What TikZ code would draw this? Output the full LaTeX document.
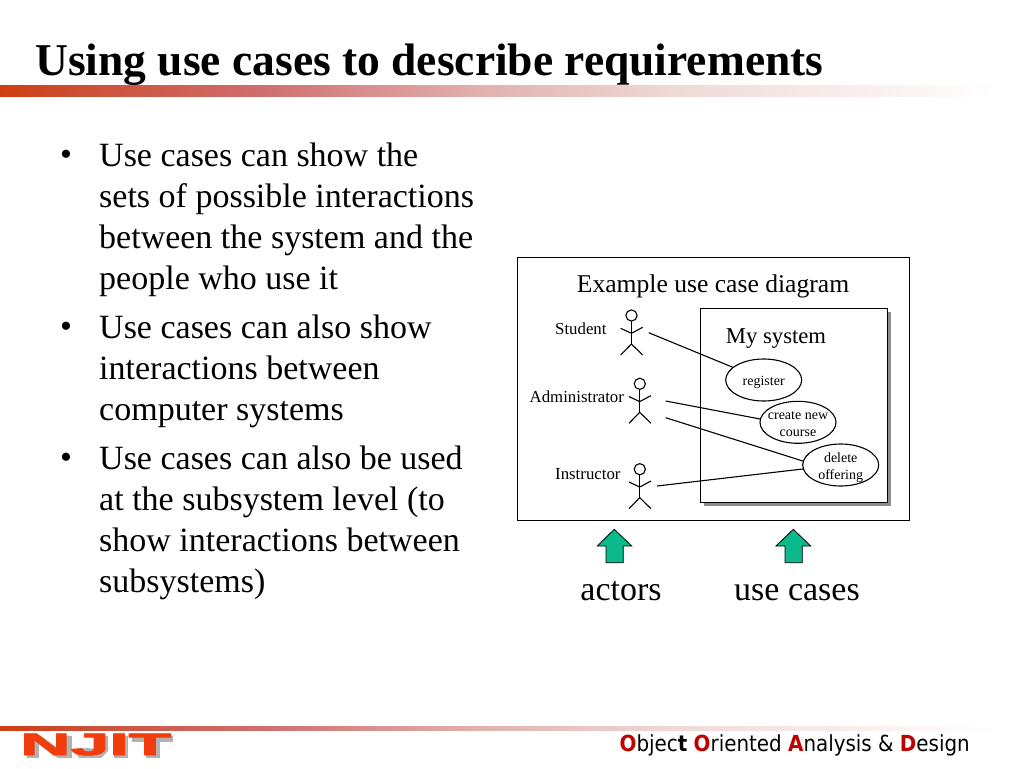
\documentclass[tikz,border=0pt]{standalone}
\usepackage{fontspec}
\setmainfont{Liberation Serif}
\newfontfamily\footfont{DejaVu Sans Condensed}
\newfontfamily\logofont[FakeBold=2.5]{Liberation Sans Bold}
\usetikzlibrary{shapes.geometric}
\definecolor{fadea}{HTML}{CF3E10}
\definecolor{fadeb}{HTML}{CC4F35}
\definecolor{fadec}{HTML}{D07070}
\definecolor{faded}{HTML}{E0AFAB}
\definecolor{fadee}{HTML}{F0DAD8}
\definecolor{arrowgreen}{HTML}{0BB98C}
\definecolor{logored}{HTML}{F23C0C}
\definecolor{footred}{HTML}{C00000}
\pgfdeclarehorizontalshading{barfade}{100bp}{color(0bp)=(fadea); color(25bp)=(fadea); color(29bp)=(fadeb); color(38.5bp)=(fadec); color(48.5bp)=(faded); color(59bp)=(fadee); color(75bp)=(white); color(100bp)=(white)}
\newcommand{\drawactor}[3]{%
  \begin{scope}[shift={(#1,#2)}]
    \draw[thinline] (631.5,315.5) circle (5.6);
    \draw[thinline] (631.4,321.1) -- (631.4,344);
    \draw[thinline] (620.7,328.3) -- (631.4,333.3) -- (642.7,327.3);
    \draw[thinline] (620.7,355) -- (631.4,344) -- (642.7,355);
    \coordinate (#3) at (631.4,333);
  \end{scope}}
\newcommand{\casetext}[1]{\raisebox{-6pt}[0pt][0pt]{\makebox[0pt]{\begin{tabular}{@{}c@{}}#1\end{tabular}}}}
\newcommand{\logotext}{\scalebox{2.25}[1]{NJIT}}
\tikzset{
  x=1pt,y=-1pt,
  thinline/.style={draw=black,line width=1.1pt},
  frameline/.style={draw=black,line width=1pt},
  usecase/.style={ellipse,draw=black,line width=1.1pt,fill=white,minimum width=76pt,minimum height=42pt,inner sep=0pt,align=center,font=\fontsize{14}{17.5}\selectfont},
  bodytext/.style={anchor=north west,inner sep=0pt,align=left,font=\fontsize{34}{41}\selectfont},
  bulletmark/.style={anchor=base west,inner sep=0pt,font=\fontsize{34}{41}\selectfont},
  actorlabel/.style={anchor=base west,inner sep=0pt,font=\fontsize{16.8}{20}\selectfont},
  upgreen/.style={draw=black,line width=.8pt,fill=arrowgreen},
  bigtext/.style={anchor=base,inner sep=0pt,font=\fontsize{34}{38}\selectfont},
  logoshade/.style={fill=black!30},
}
\begin{document}
\begin{tikzpicture}
\useasboundingbox (0,0) rectangle (1024,768);
\fill[white] (0,0) rectangle (1024,768);
% title and bars
\node[anchor=base west,inner sep=0pt,font=\fontsize{45.5}{50}\selectfont\bfseries] (title) at (35,75) {Using use cases to describe requirements};
\shade[shading=barfade] (0,85) rectangle (1000,96);
\shade[shading=barfade] (0,726) rectangle (1000,730);
% bullets
\node[bulletmark] (b1) at (60,165) {•};
\node[bodytext] (t1) at (99,143) {Use cases can show the\\sets of possible interactions\\between the system and the\\people who use it};
\node[bulletmark] (b2) at (60,337) {•};
\node[bodytext] (t2) at (99,315) {Use cases can also show\\interactions between\\computer systems};
\node[bulletmark] (b3) at (60,468) {•};
\node[bodytext] (t3) at (99,446) {Use cases can also be used\\at the subsystem level (to\\show interactions between\\subsystems)};
% diagram frame
\draw[frameline,fill=white] (517,257) rectangle (909,520);
\node[anchor=base,inner sep=0pt,font=\fontsize{25.6}{30}\selectfont] (dtitle) at (713,292) {Example use case diagram};
\fill[black!45] (703.5,311.5) rectangle (890.5,506);
\draw[frameline,fill=white] (700,308) rectangle (887,502);
\node[anchor=base,inner sep=0pt,font=\fontsize{22.7}{26}\selectfont] (sys) at (776,343) {My system};
% use cases
\node[usecase] (reg) at (763.7,380) {\casetext{register}};
\node[usecase] (create) at (798,422.3) {\casetext{create new\\course}};
\node[usecase] (del) at (840.7,465) {\casetext{delete\\offering}};
% actors
\drawactor{0}{0}{stuc}
\drawactor{8.3}{68.3}{admc}
\drawactor{8.3}{153.7}{insc}
\node[actorlabel] (lstu) at (555,334) {Student};
\node[actorlabel] (ladm) at (529.5,402) {Administrator};
\node[actorlabel] (lins) at (555,479) {Instructor};
% connectors
\coordinate (stuhand) at (648.7,332.7);
\coordinate (admhanda) at (665.7,401);
\coordinate (admhandb) at (665.7,417.7);
\coordinate (inshand) at (657,486);
\draw[thinline] (stuhand) -- (reg);
\draw[thinline] (admhanda) -- (create.175);
\draw[thinline] (admhandb) -- (del.174);
\draw[thinline] (inshand) -- (del.186);
% green arrows
\draw[upgreen] (614.3,529.3) -- (631.7,546) -- (623.3,546) -- (623.3,562.7) -- (606,562.7) -- (606,546) -- (597.3,546) -- cycle;
\draw[upgreen] (793.3,529.3) -- (810.7,546) -- (802.3,546) -- (802.3,562.7) -- (785,562.7) -- (785,546) -- (776,546) -- cycle;
\node[bigtext] (act) at (621,600) {actors};
\node[bigtext] (uc) at (797,600) {use cases};
% logo shadow (drawn shapes) and logo
\begin{scope}[shift={(3,3)}]
  \fill[logoshade] (24,733) rectangle (36,755);
  \fill[logoshade] (57,733) rectangle (69,755);
  \fill[logoshade] (24,733) -- (38,733) -- (69,755) -- (55,755) -- cycle;
  \fill[logoshade] (92,733) -- (105,733) -- (105,748) -- (98,755) -- (76,755) -- (72,746) -- (85,745) -- (92,746) -- cycle;
  \fill[logoshade] (111,733) rectangle (125,755);
  \fill[logoshade] (129,733) rectangle (170,739);
  \fill[logoshade] (143,733) rectangle (157,755);
\end{scope}
\node[anchor=base west,inner sep=0pt,font=\logofont\fontsize{31}{31}\selectfont] (logo) at (20,755) {\textcolor{logored}{\logotext}};
% footer
\node[anchor=base east,inner sep=0pt,font=\footfont\fontsize{22.1}{26}\selectfont] (foot) at (970,751) {\textcolor{footred}{\bfseries O}bjec{\bfseries t} \textcolor{footred}{\bfseries O}riented \textcolor{footred}{\bfseries A}nalysis \& \textcolor{footred}{\bfseries D}esign};
\end{tikzpicture}
\end{document}
